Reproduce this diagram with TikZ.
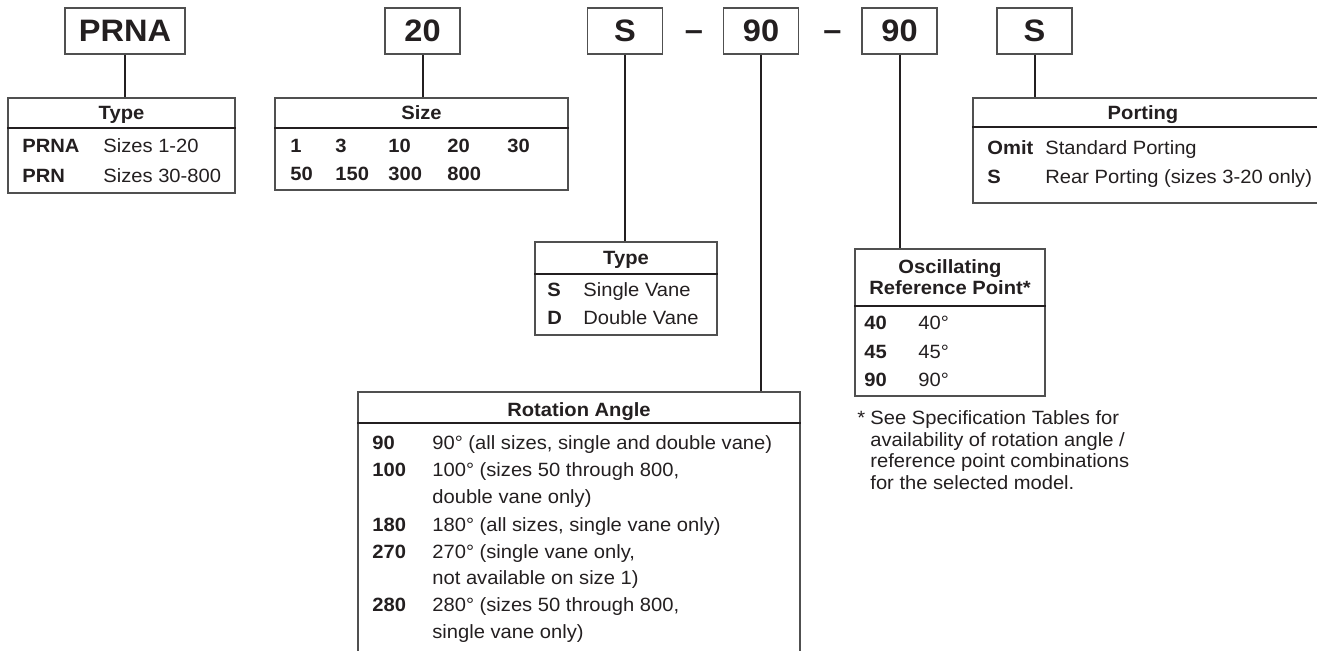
\documentclass[tikz,border=0pt]{standalone}
\usepackage{fontspec}
\setmainfont{Liberation Sans}[FakeStretch=1.05]
\usepackage{xcolor}
\usetikzlibrary{fit}
\definecolor{ink}{HTML}{231F20}
\definecolor{framegray}{HTML}{505050}

\tikzset{
  codebox/.style={draw=framegray, line width=0.75pt, minimum width=37.5pt,
    minimum height=23pt, inner sep=0pt, text=ink,
    font=\fontsize{15.5}{17}\selectfont\bfseries},
  dashsign/.style={anchor=base, text=ink, inner sep=0pt, font=\fontsize{15.5}{17}\selectfont\bfseries},
  tbl/.style={draw=framegray, line width=0.75pt, inner sep=0pt},
  rule/.style={draw=ink, line width=1.3pt},
  link/.style={draw=ink, line width=1pt},
  hd/.style={anchor=base, text=ink, inner sep=0pt, font=\fontsize{9.6}{11}\selectfont\bfseries},
  code/.style={anchor=base west, text=ink, inner sep=0pt, font=\fontsize{9.6}{11}\selectfont\bfseries},
  desc/.style={anchor=base west, text=ink, inner sep=0pt, font=\fontsize{9.6}{11}\selectfont},
}

\begin{document}
\begin{tikzpicture}[x=0.5pt, y=-0.5pt]
\clip (0,0) rectangle (1317,650);

% --- Model code boxes ---
\node[codebox, minimum width=60pt] (bPRNA) at (125,31) {PRNA};
\node[codebox] (bSize) at (422.5,31) {20};
\node[codebox] (bVane) at (625,31) {S};
\node[dashsign] (dashA) at (694,40) {–};
\node[codebox] (bAngle) at (761,31) {90};
\node[dashsign] (dashB) at (832.5,40) {–};
\node[codebox] (bRef) at (899.5,31) {90};
\node[codebox] (bPort) at (1034.5,31) {S};

% --- Type table ---
\node[tbl, fit={(8,98) (235,193)}] (typeTbl) {};
\draw[rule] (typeTbl.west |- 0,128) -- (typeTbl.east |- 0,128);
\node[hd] (typeHd) at (121.5,119) {Type};
\foreach \y/\c/\d in {152/PRNA/Sizes 1-20, 182/PRN/Sizes 30-800} {
  \node[code] (typeC\y) at (22,\y) {\c};
  \node[desc] (typeD\y) at (103,\y) {\d};
}

% --- Size table ---
\node[tbl, fit={(275,98) (568,190)}] (sizeTbl) {};
\draw[rule] (sizeTbl.west |- 0,128) -- (sizeTbl.east |- 0,128);
\node[hd] (sizeHd) at (421.5,119) {Size};
\foreach \x/\v [count=\i] in {290/1,335/3,388/10,447/20,507/30}
  \node[code] (sizeA\i) at (\x,152) {\v};
\foreach \x/\v [count=\i] in {290/50,335/150,388/300,447/800}
  \node[code] (sizeB\i) at (\x,180) {\v};

% --- Vane type table ---
\node[tbl, fit={(535,242) (717,335)}] (vaneTbl) {};
\draw[rule] (vaneTbl.west |- 0,274) -- (vaneTbl.east |- 0,274);
\node[hd] (vaneHd) at (626,264) {Type};
\foreach \y/\c/\d in {296/S/Single Vane, 324/D/Double Vane} {
  \node[code] (vaneC\y) at (547,\y) {\c};
  \node[desc] (vaneD\y) at (583,\y) {\d};
}

% --- Rotation angle table ---
\node[tbl, fit={(358,392) (800,680)}] (angleTbl) {};
\draw[rule] (angleTbl.west |- 0,423) -- (angleTbl.east |- 0,423);
\node[hd] (angleHd) at (579,416) {Rotation Angle};
\foreach \y/\c in {449/90, 476/100, 531/180, 558/270, 611/280}
  \node[code] (angleC\y) at (372,\y) {\c};
\foreach \y/\d in {449/{90° (all sizes, single and double vane)},
                   476/{100° (sizes 50 through 800,},
                   503/{double vane only)},
                   531/{180° (all sizes, single vane only)},
                   558/{270° (single vane only,},
                   584/{not available on size 1)},
                   611/{280° (sizes 50 through 800,},
                   638/{single vane only)}}
  \node[desc] (angleD\y) at (432,\y) {\d};

% --- Oscillating reference point table ---
\node[tbl, fit={(855,249) (1045,396)}] (refTbl) {};
\draw[rule] (refTbl.west |- 0,306) -- (refTbl.east |- 0,306);
\node[hd] (refHdA) at (950,273) {Oscillating};
\node[hd] (refHdB) at (950,294) {Reference Point*};
\foreach \y/\c/\d in {329/40/40°, 358/45/45°, 386/90/90°} {
  \node[code] (refC\y) at (864,\y) {\c};
  \node[desc] (refD\y) at (918,\y) {\d};
}

% footnote
\node[desc] (noteStar) at (857,424) {*};
\foreach \y/\t in {424/{See Specification Tables for},
                   446/{availability of rotation angle /},
                   467/{reference point combinations},
                   489/{for the selected model.}}
  \node[desc] (note\y) at (870,\y) {\t};

% --- Porting table ---
\node[tbl, fit={(973,98) (1340,203)}] (portTbl) {};
\draw[rule] (portTbl.west |- 0,127) -- (portTbl.east |- 0,127);
\node[hd] (portHd) at (1143,119) {Porting};
\foreach \y/\c/\d in {154/Omit/Standard Porting, 183/S/Rear Porting (sizes 3-20 only)} {
  \node[code] (portC\y) at (987,\y) {\c};
  \node[desc] (portD\y) at (1045,\y) {\d};
}

% --- Leader lines ---
\draw[link] (bPRNA.south) -- (bPRNA.south |- typeTbl.north);
\draw[link] (bSize.south) -- (bSize.south |- sizeTbl.north);
\draw[link] (bVane.south) -- (bVane.south |- vaneTbl.north);
\draw[link] (bAngle.south) -- (bAngle.south |- angleTbl.north);
\draw[link] (bRef.south) -- (bRef.south |- refTbl.north);
\draw[link] (bPort.south) -- (bPort.south |- portTbl.north);
\end{tikzpicture}
\end{document}
